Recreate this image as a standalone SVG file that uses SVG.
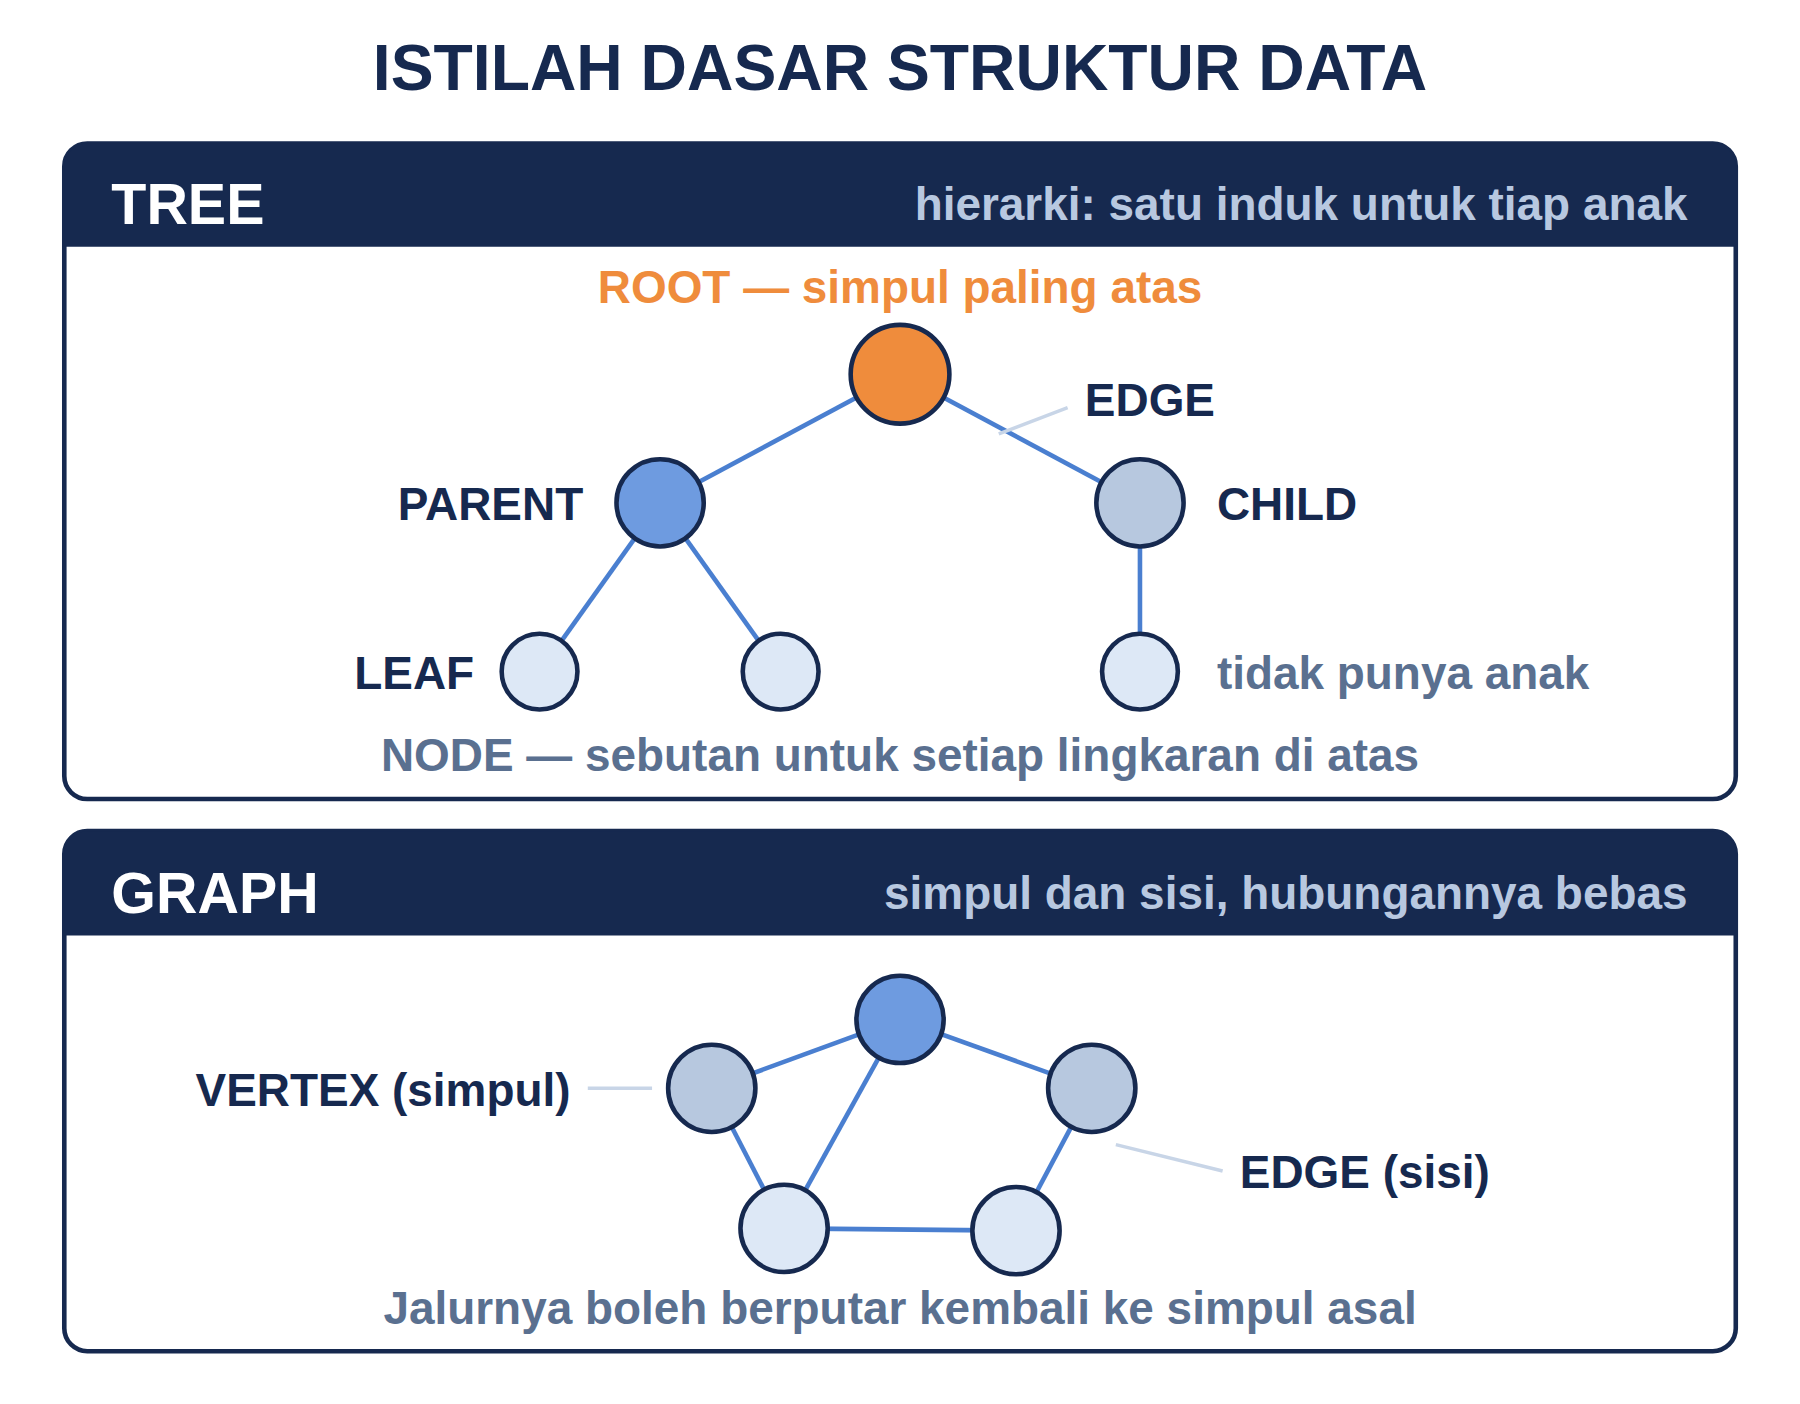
<svg xmlns="http://www.w3.org/2000/svg" width="1800" height="1404" viewBox="0 0 1800 1404">
<style>
text{font-family:"Liberation Sans",Arial,sans-serif;font-weight:bold}
.nv{fill:#16294f}.mut{fill:#5a7090}.hd{fill:#b8c8e0;font-size:40px}
.e{stroke:#4a7fd0;stroke-width:4;fill:none}
.ld{stroke:#c8d5e7;stroke-width:3}
.n{stroke:#16294f;stroke-width:4}
.box{fill:#fff;stroke:#16294f;stroke-width:4}
</style>
<rect width="1800" height="1404" fill="#fff"/>
<g transform="scale(1.148)">
<text x="784" y="78" text-anchor="middle" font-size="56" class="nv">ISTILAH DASAR STRUKTUR DATA</text>
<g id="tree-panel">
<rect class="box" x="56" y="125" width="1456" height="571" rx="20"/>
<path d="M56 145 a20 20 0 0 1 20 -20 H1492 a20 20 0 0 1 20 20 V215 H56 Z" fill="#16294f"/>
<text x="97" y="195" font-size="50" fill="#fff">TREE</text>
<text x="1470" y="192" text-anchor="end" class="hd">hierarki: satu induk untuk tiap anak</text>
</g>
<g id="graph-panel">
<rect class="box" x="56" y="724" width="1456" height="453" rx="20"/>
<path d="M56 744 a20 20 0 0 1 20 -20 H1492 a20 20 0 0 1 20 20 V815 H56 Z" fill="#16294f"/>
<text x="97" y="795" font-size="50" fill="#fff">GRAPH</text>
<text x="1470" y="792" text-anchor="end" class="hd">simpul dan sisi, hubungannya bebas</text>
</g>
<g id="connectors">
<line class="e" x1="784" y1="326" x2="575" y2="438"/>
<line class="e" x1="784" y1="326" x2="993" y2="438"/>
<line class="e" x1="575" y1="438" x2="470" y2="585"/>
<line class="e" x1="575" y1="438" x2="680" y2="585"/>
<line class="e" x1="993" y1="438" x2="993" y2="585"/>
<line class="e" x1="784" y1="888" x2="620" y2="948"/>
<line class="e" x1="784" y1="888" x2="951" y2="948"/>
<line class="e" x1="784" y1="888" x2="683" y2="1070"/>
<line class="e" x1="620" y1="948" x2="683" y2="1070"/>
<line class="e" x1="951" y1="948" x2="885" y2="1072"/>
<line class="e" x1="683" y1="1070" x2="885" y2="1072"/>
<line class="ld" x1="870" y1="378" x2="930" y2="355"/>
<line class="ld" x1="512" y1="948" x2="568" y2="948"/>
<line class="ld" x1="972" y1="997" x2="1065" y2="1020"/>
</g>
<g id="root"><circle class="n" cx="784" cy="326" r="43" fill="#ef8c3c"/></g>
<g id="parent"><circle class="n" cx="575" cy="438" r="38" fill="#6e9be0"/></g>
<g id="child"><circle class="n" cx="993" cy="438" r="38" fill="#b7c8df"/></g>
<g id="leaf1"><circle class="n" cx="470" cy="585" r="33" fill="#dde8f6"/></g>
<g id="leaf2"><circle class="n" cx="680" cy="585" r="33" fill="#dde8f6"/></g>
<g id="leaf3"><circle class="n" cx="993" cy="585" r="33" fill="#dde8f6"/></g>
<g id="g-top"><circle class="n" cx="784" cy="888" r="38" fill="#6e9be0"/></g>
<g id="g-left"><circle class="n" cx="620" cy="948" r="38" fill="#b7c8df"/></g>
<g id="g-right"><circle class="n" cx="951" cy="948" r="38" fill="#b7c8df"/></g>
<g id="g-bl"><circle class="n" cx="683" cy="1070" r="38" fill="#dde8f6"/></g>
<g id="g-br"><circle class="n" cx="885" cy="1072" r="38" fill="#dde8f6"/></g>
<g id="labels" font-size="40">
<text x="784" y="264" text-anchor="middle" font-size="40" fill="#ef8c3c">ROOT — simpul paling atas</text>
<text x="945" y="362" font-size="40" class="nv">EDGE</text>
<text x="508" y="453" text-anchor="end" font-size="40" class="nv">PARENT</text>
<text x="1060" y="453" font-size="40" class="nv">CHILD</text>
<text x="413" y="600" text-anchor="end" font-size="40" class="nv">LEAF</text>
<text x="1060" y="600" font-size="40" class="mut">tidak punya anak</text>
<text x="784" y="672" text-anchor="middle" font-size="40" class="mut">NODE — sebutan untuk setiap lingkaran di atas</text>
<text x="497" y="963" text-anchor="end" font-size="40" class="nv">VERTEX (simpul)</text>
<text x="1080" y="1035" font-size="40" class="nv">EDGE (sisi)</text>
<text x="784" y="1153" text-anchor="middle" font-size="40" class="mut">Jalurnya boleh berputar kembali ke simpul asal</text>
</g>
</g>
</svg>
